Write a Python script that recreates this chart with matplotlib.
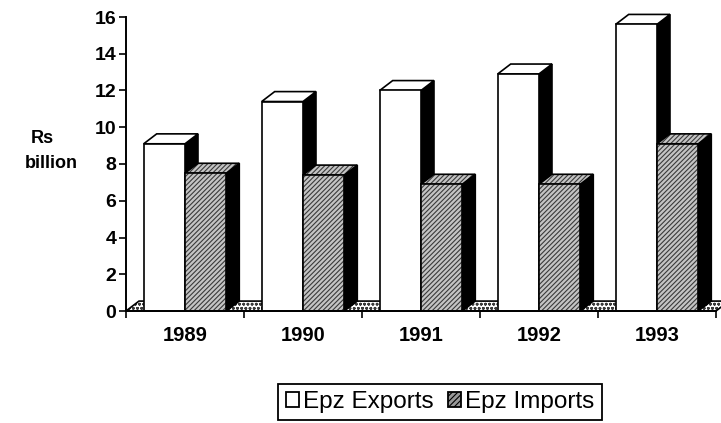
import matplotlib
matplotlib.use("Agg")
import matplotlib.pyplot as plt
from matplotlib.patches import Polygon, Patch

# data (Rs billion)
years = ["1989", "1990", "1991", "1992", "1993"]
epz_exports = [9.1, 11.4, 12.0, 12.9, 15.6]
epz_imports = [7.5, 7.4, 6.9, 6.9, 9.1]

plt.rcParams["font.family"] = ["Liberation Sans", "DejaVu Sans"]
plt.rcParams["hatch.linewidth"] = 0.8

W = 0.35      # bar width (category units)
DX = 0.11     # 3d depth, x offset
DY = 0.54     # 3d depth, y offset (value units)
LW = 1.2
HATCH_GREY = "#3a3a3a"
IMPORT_FACE = "#c4c4c4"

fig = plt.figure(figsize=(7.21, 4.23), dpi=100)
ax = fig.add_axes([126 / 721, (423 - 311) / 423, 590 / 721, 294 / 423])
ax.set_xlim(-0.5, len(years) - 0.5)
ax.set_ylim(0, 16)


def poly(pts, hatch=None, fc="white", ec="black", z=2):
    if hatch:
        ax.add_patch(Polygon(pts, closed=True, facecolor=fc, edgecolor=HATCH_GREY,
                             hatch=hatch, lw=0, zorder=z, clip_on=False))
        ax.add_patch(Polygon(pts, closed=True, fill=False, edgecolor=ec,
                             lw=LW, zorder=z, clip_on=False))
    else:
        ax.add_patch(Polygon(pts, closed=True, facecolor=fc, edgecolor=ec,
                             lw=LW, zorder=z, clip_on=False))


def box(x0, v, hatch=None, fc="white"):
    x1 = x0 + W
    # side face
    poly([(x1, 0), (x1 + DX, DY), (x1 + DX, v + DY), (x1, v)], fc="black")
    # top face
    poly([(x0, v), (x1, v), (x1 + DX, v + DY), (x0 + DX, v + DY)], hatch=hatch, fc=fc)
    # front face
    poly([(x0, 0), (x1, 0), (x1, v), (x0, v)], hatch=hatch, fc=fc)


# floor
n = len(years)
poly([(-0.5, 0), (n - 0.5, 0), (n - 0.5 + DX, DY), (-0.5 + DX, DY)],
     hatch="oooo", z=1)

for i in range(n):
    box(i - W, epz_exports[i])
    box(i, epz_imports[i], hatch="///////", fc=IMPORT_FACE)

for s in ["top", "right"]:
    ax.spines[s].set_visible(False)
for s in ["left", "bottom"]:
    ax.spines[s].set_linewidth(1.4)
    ax.spines[s].set_zorder(5)

ax.set_yticks(range(0, 17, 2))
ax.tick_params(axis="y", length=5, width=1.2, pad=2, labelsize=14)
for t in ax.get_yticklabels():
    t.set_fontweight("bold")

ax.set_xticks([i - 0.5 for i in range(n + 1)])
ax.set_xticklabels([])
ax.set_xticks(range(n), minor=True)
ax.set_xticklabels(years, minor=True)
ax.tick_params(axis="x", which="major", length=5, width=1.2)
ax.tick_params(axis="x", which="minor", length=0, pad=11, labelsize=14.5)
for t in ax.get_xticklabels(minor=True):
    t.set_fontweight("bold")

fig.text(42 / 721, 1 - 138 / 423, "Rs", ha="center", va="center",
         fontsize=13, fontweight="bold")
fig.text(51 / 721, 1 - 163 / 423, "billion", ha="center", va="center",
         fontsize=13, fontweight="bold")

handles = [
    Patch(facecolor="white", edgecolor="black", lw=1.3, label="Epz Exports"),
    Patch(facecolor="#999999", edgecolor="black", hatch="//////", lw=1.3,
          label="Epz Imports"),
]
leg = fig.legend(handles=handles, loc="center", ncol=2,
                 bbox_to_anchor=(440 / 721, 1 - 402 / 423),
                 fontsize=17.5, frameon=True, fancybox=False, framealpha=1,
                 edgecolor="black", handlelength=0.55, handleheight=0.55,
                 handletextpad=0.15, columnspacing=0.6, borderpad=0.3,
                 borderaxespad=0)
leg.get_frame().set_linewidth(1.3)

fig.savefig("out.png", dpi=100)
